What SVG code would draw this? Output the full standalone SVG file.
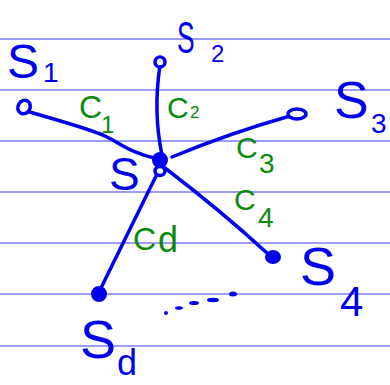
<svg xmlns="http://www.w3.org/2000/svg" width="390" height="385" viewBox="0 0 390 385">
<style>
.rule{stroke:#9d9dff;stroke-width:2}
.edge{fill:none;stroke:#0000ee;stroke-width:3.5;stroke-linecap:round}
.ring{fill:#fff;stroke:#0000ee;stroke-width:3.5}
.dot{fill:#0000ee;stroke:#0000ee;stroke-width:2}
.s{font-family:"Liberation Sans",Arial,sans-serif;fill:#0000ee}
.c{font-family:"Liberation Sans",Arial,sans-serif;fill:#0a8a0a}
</style>
<rect width="390" height="385" fill="#fff"/>
<g id="paper">
<line class="rule" x1="0" y1="39" x2="390" y2="39"/>
<line class="rule" x1="0" y1="90" x2="390" y2="90"/>
<line class="rule" x1="0" y1="141" x2="390" y2="141"/>
<line class="rule" x1="0" y1="192" x2="390" y2="192"/>
<line class="rule" x1="0" y1="243" x2="390" y2="243"/>
<line class="rule" x1="0" y1="294" x2="390" y2="294"/>
<line class="rule" x1="0" y1="346" x2="390" y2="346"/>
</g>
<g id="connectors">
<path class="edge" d="M30,112 C60,121 90,129 105,136 C120,143 130,153 158,159"/>
<path class="edge" d="M160,65 C156,92 155,122 162,155"/>
<path class="edge" d="M172,157 Q230,133 290,116"/>
<path class="edge" d="M165,168 Q220,210 267,253"/>
<path class="edge" d="M158,172 L100,290"/>
<text class="c" font-size="32" x="79" y="118">C</text><text class="c" font-size="24" x="101" y="133">1</text>
<text class="c" font-size="30" x="167" y="118">C</text><text class="c" font-size="17" x="190" y="118">2</text>
<text class="c" font-size="30" x="236" y="158">C</text><text class="c" font-size="28" x="259" y="173">3</text>
<text class="c" font-size="30" x="234" y="210">C</text><text class="c" font-size="28" x="258" y="227">4</text>
<text class="c" font-size="32" x="133" y="250">C</text><text class="c" font-size="36" x="158" y="252">d</text>
<g id="ellipsis">
<circle class="dot" cx="166" cy="313" r="1"/>
<ellipse class="dot" cx="179" cy="308" rx="3" ry="0.8"/>
<ellipse class="dot" cx="194" cy="303" rx="4" ry="1"/>
<ellipse class="dot" cx="213" cy="300" rx="5" ry="1.2"/>
<ellipse class="dot" cx="233" cy="294" rx="3" ry="1.5"/>
</g>
</g>
<g id="s1">
<ellipse class="ring" cx="24" cy="107" rx="6" ry="7" transform="rotate(30 24 107)"/>
<text class="s" font-size="48" x="7" y="78">S</text><text class="s" font-size="28" x="43" y="82">1</text>
</g>
<g id="s2">
<ellipse class="ring" cx="160" cy="62" rx="5" ry="5"/>
<text class="s" font-size="44" transform="translate(177,53) scale(0.6,1)">S</text><text class="s" font-size="24" x="211" y="62">2</text>
</g>
<g id="s3">
<ellipse class="ring" cx="297" cy="114" rx="9" ry="5"/>
<text class="s" font-size="52" x="334" y="118">S</text><text class="s" font-size="28" x="371" y="133">3</text>
</g>
<g id="s4">
<ellipse class="dot" cx="273" cy="257" rx="7" ry="6"/>
<text class="s" font-size="54" x="300" y="285">S</text><text class="s" font-size="42" x="340" y="316">4</text>
</g>
<g id="sd">
<circle class="dot" cx="99" cy="294" r="7"/>
<text class="s" font-size="54" x="80" y="358">S</text><text class="s" font-size="36" x="117" y="375">d</text>
</g>
<g id="center">
<ellipse class="dot" cx="160" cy="160" rx="7" ry="7"/>
<ellipse class="ring" cx="160" cy="171" rx="5" ry="4.5"/>
<text class="s" font-size="46" x="109" y="190">S</text>
</g>
</svg>
